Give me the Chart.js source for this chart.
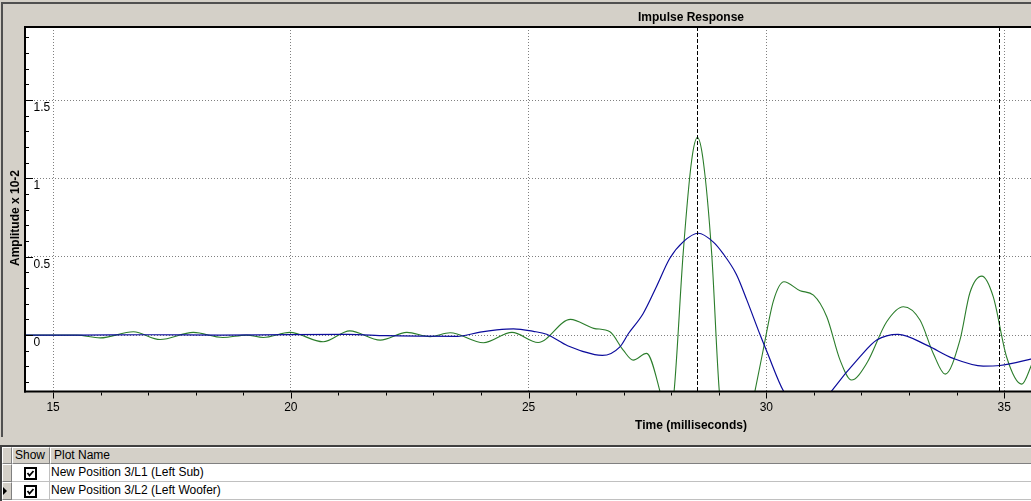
<!DOCTYPE html>
<html>
<head>
<meta charset="utf-8">
<script src="https://cdn.jsdelivr.net/npm/chart.js@4.4.0/dist/chart.umd.min.js"></script>
<style>
html, body { margin:0; padding:0; width:1031px; height:501px; overflow:hidden; background:#d4d0c8; }
#panel { position:absolute; left:1px; top:2px; width:1100px; height:435px; box-sizing:border-box;
  border-left:2px solid #505050; border-top:2px solid #505050; }
#chart { position:absolute; left:0; top:0; }
#grid { position:absolute; left:0; top:445px; width:1031px; height:56px; box-sizing:border-box;
  border-top:2px solid #404040; border-left:2px solid #404040; background:#fff; overflow:hidden;
  font:12px "Liberation Sans", Arial, sans-serif; color:#000; }
.c { position:absolute; box-sizing:border-box; white-space:nowrap; }
.hd { top:0; height:17px; line-height:15px; background:#d4d0c8; padding-left:2px;
  border-top:1px solid #fff; border-left:1px solid #fff; border-right:1px solid #808080; border-bottom:1px solid #808080; }
.ind { left:0; width:10px; height:18px; background:#d4d0c8;
  border-top:1px solid #fff; border-left:1px solid #fff; border-right:1px solid #808080; border-bottom:1px solid #808080; }
.cell { height:18px; line-height:17px; padding-left:1px; background:#fff;
  border-right:1px solid #c0c0c0; border-bottom:1px solid #c0c0c0; }
.cell svg { position:absolute; left:12px; top:3px; }
.tri { position:absolute; left:0; top:4px; width:0; height:0;
  border-left:4px solid #000; border-top:4px solid transparent; border-bottom:4px solid transparent; }
</style>
</head>
<body>
<div id="panel"></div>
<canvas id="chart" width="1370" height="437"></canvas>
<div id="grid">
  <div class="c hd" style="left:0;width:10px"></div>
  <div class="c hd" style="left:10px;width:38px">Show</div>
  <div class="c hd" style="left:48px;width:1000px;padding-left:3px">Plot Name</div>

  <div class="c ind" style="top:17px"></div>
  <div class="c cell" style="left:10px;width:38px;top:17px"><svg width="13" height="13"><rect x="1" y="1" width="11" height="11" fill="#fff" stroke="#000" stroke-width="2"/><polyline points="3.5,6 5.5,8.5 9.5,4" fill="none" stroke="#000" stroke-width="1.8"/></svg></div>
  <div class="c cell" style="left:48px;width:1000px;top:17px">New Position 3/L1 (Left Sub)</div>

  <div class="c ind" style="top:35px"><div class="tri"></div></div>
  <div class="c cell" style="left:10px;width:38px;top:35px"><svg width="13" height="13"><rect x="1" y="1" width="11" height="11" fill="#fff" stroke="#000" stroke-width="2"/><polyline points="3.5,6 5.5,8.5 9.5,4" fill="none" stroke="#000" stroke-width="1.8"/></svg></div>
  <div class="c cell" style="left:48px;width:1000px;top:35px">New Position 3/L2 (Left Woofer)</div>
</div>

<script>
// values: time in ms, amplitude in units of 10^-2
const subTime = [14.41, 15.5, 17.0, 18.5, 20.0, 21.2, 22.0, 22.8, 23.5, 23.98, 24.33, 24.68, 25.1, 25.38,
  25.82, 26.39, 26.55, 26.92, 27.1, 27.41, 27.69, 27.97, 28.25, 28.57, 28.88, 29.09, 29.37, 29.59,
  29.87, 30.01, 30.36, 30.9, 31.37, 31.97, 32.32, 32.77, 33.37, 33.93, 34.56, 34.91, 35.56, 35.8];
const subAmp = [0.0, 0.0, 0.002, 0.0, 0.003, 0.004, -0.004, -0.007, -0.008, 0.019, 0.033, 0.04, 0.024, 0.005,
  -0.068, -0.125, -0.13, -0.075, 0.01, 0.138, 0.31, 0.49, 0.595, 0.65, 0.595, 0.52, 0.387, 0.223,
  0.0, -0.105, -0.357, -0.56, -0.357, -0.138, -0.032, 0.005, -0.064, -0.149, -0.198, -0.194, -0.153, -0.135];

const wooferTime = [14.41, 15.0, 15.5, 15.99, 16.69, 17.25, 17.95, 18.57, 19.07, 19.42, 19.98, 20.68, 21.24,
  21.88, 22.44, 22.93, 23.35, 24.05, 24.65, 25.2, 25.88, 26.37, 26.71, 26.99, 27.2, 27.48, 27.76, 27.93,
  28.06, 28.25, 28.43, 28.55, 28.67, 28.85, 29.01, 29.35, 29.76, 29.93, 30.15, 30.37, 30.71, 30.99, 31.27,
  31.55, 31.79, 32.11, 32.53, 32.88, 33.23, 33.51, 33.76, 34.07, 34.28, 34.53, 34.77, 35.05, 35.37, 35.56, 35.8];
const wooferAmp = [0.0, 0.0, 0.0, -0.018, 0.021, -0.028, 0.017, -0.015, 0.0, -0.015, 0.017, -0.043, 0.027,
  -0.032, 0.017, -0.01, 0.015, -0.049, 0.017, -0.047, 0.1, 0.043, 0.021, -0.096, -0.16, -0.117, -0.357, -0.6,
  -0.357, 0.52, 1.117, 1.26, 1.117, 0.52, -0.357, -1.0, -0.357, -0.1, 0.22, 0.34, 0.283, 0.255, 0.117,
  -0.16, -0.287, -0.18, 0.085, 0.181, 0.096, -0.117, -0.249, -0.032, 0.27, 0.376, 0.245, -0.138, -0.313, -0.202, 0.0];

const seriesNames = ['New Position 3/L1 (Left Sub)', 'New Position 3/L2 (Left Woofer)'];
const cursorTimes = [28.55, 34.9];

// axis ranges (the plot runs on past the right edge of the window)
const timeMin = 14.41, timeMax = 42.42, timeStep = 1, timeMajor = 5;
const ampMin = -0.36, ampMax = 1.966, ampStep = 0.1, ampMajor = 0.5;

function isMajor(v, m) {
  const r = v / m;
  return Math.abs(r - Math.round(r)) < 1e-6;
}

Chart.defaults.font.family = '"Liberation Sans", Arial, sans-serif';
Chart.defaults.font.size = 12;
Chart.defaults.color = '#000';

// white plot area, cursor lines, frame, tick marks, y title
const decor = {
  id: 'decor',
  beforeDraw(chart) {
    const {ctx, chartArea: a} = chart;
    ctx.save();
    ctx.fillStyle = '#fff';
    ctx.fillRect(a.left, a.top, a.right - a.left, a.bottom - a.top);
    ctx.restore();
  },
  afterDatasetsDraw(chart) {
    const {ctx, chartArea: a} = chart;
    const x = chart.scales.x;
    ctx.save();
    ctx.strokeStyle = '#000';
    ctx.lineWidth = 1;
    ctx.setLineDash([4, 2]);
    cursorTimes.forEach(t => {
      const px = Math.round(x.getPixelForValue(t)) + 0.5;
      ctx.beginPath();
      ctx.moveTo(px, a.top);
      ctx.lineTo(px, a.bottom);
      ctx.stroke();
    });
    ctx.restore();
  },
  afterDraw(chart) {
    const {ctx, chartArea: a} = chart;
    const x = chart.scales.x, y = chart.scales.y;
    ctx.save();
    ctx.fillStyle = '#000';
    // frame
    ctx.fillRect(a.left - 1, a.top - 1, a.right - a.left + 2, 2);
    ctx.fillRect(a.left - 1, a.top - 1, 2, a.bottom - a.top + 2);
    ctx.fillRect(a.left - 1, a.bottom - 1, a.right - a.left + 2, 2);
    // tick marks
    x.ticks.forEach(t => {
      const px = Math.round(x.getPixelForValue(t.value));
      ctx.fillRect(px, a.bottom + 1, 1, isMajor(t.value, timeMajor) ? 6 : 3);
    });
    y.ticks.forEach(t => {
      const py = Math.round(y.getPixelForValue(t.value));
      ctx.fillRect(a.left + 1, py, isMajor(t.value, ampMajor) ? 7 : 3, 1);
    });
    // y title
    ctx.font = 'bold 12px "Liberation Sans", Arial, sans-serif';
    ctx.textAlign = 'center';
    ctx.textBaseline = 'middle';
    ctx.translate(16, 218);
    ctx.rotate(-Math.PI / 2);
    ctx.fillText('Amplitude x 10-2', 0, 0);
    ctx.restore();
  }
};

const ctx = document.getElementById('chart').getContext('2d');
const myChart = new Chart(ctx, {
  type: 'line',
  data: {
    datasets: [{
      label: seriesNames[0],
      data: subTime.map((t, i) => ({x: t, y: subAmp[i]})),
      borderColor: '#0c0c9c',
      borderWidth: 1.2,
      pointRadius: 0,
      fill: false,
      cubicInterpolationMode: 'monotone'
    }, {
      label: seriesNames[1],
      data: wooferTime.map((t, i) => ({x: t, y: wooferAmp[i]})),
      borderColor: '#2b7d2b',
      borderWidth: 1.1,
      pointRadius: 0,
      fill: false,
      cubicInterpolationMode: 'monotone'
    }]
  },
  options: {
    responsive: false,
    animation: false,
    events: [],
    layout: { padding: { left: 0, right: 13, top: 0, bottom: 0 } },
    plugins: {
      legend: { display: false },
      tooltip: { enabled: false },
      title: {
        display: true,
        text: 'Impulse Response',
        fullSize: false,
        font: { weight: 'bold', size: 12 },
        color: '#000',
        padding: { top: 10.5, bottom: 2.1 }
      }
    },
    scales: {
      x: {
        type: 'linear',
        min: timeMin,
        max: timeMax,
        afterFit(s) { s.height = 45.5; },
        grid: {
          color: c => isMajor(c.tick.value, timeMajor) ? '#808080' : 'rgba(0,0,0,0)',
          lineWidth: 1,
          drawTicks: false
        },
        border: { display: false, dash: [1, 2] },
        ticks: {
          stepSize: timeStep,
          includeBounds: false,
          autoSkip: false,
          maxRotation: 0,
          padding: 8.8,
          callback: v => isMajor(v, timeMajor) ? String(Math.round(v)) : ''
        },
        title: {
          display: true,
          text: 'Time (milliseconds)',
          font: { weight: 'bold', size: 12 },
          padding: { top: 0, bottom: 4.3 }
        }
      },
      y: {
        type: 'linear',
        min: ampMin,
        max: ampMax,
        afterFit(s) { s.width = 25; },
        grid: {
          color: c => isMajor(c.tick.value, ampMajor) ? '#808080' : 'rgba(0,0,0,0)',
          lineWidth: 1,
          drawTicks: false
        },
        border: { display: false, dash: [1, 2] },
        ticks: {
          stepSize: ampStep,
          includeBounds: false,
          autoSkip: false,
          mirror: true,
          padding: 8.5,
          labelOffset: 7.5,
          crossAlign: 'near',
          callback: v => isMajor(v, ampMajor) ? String(Math.round(v / ampMajor) * ampMajor) : ''
        }
      }
    }
  },
  plugins: [decor]
});
</script>
</body>
</html>
